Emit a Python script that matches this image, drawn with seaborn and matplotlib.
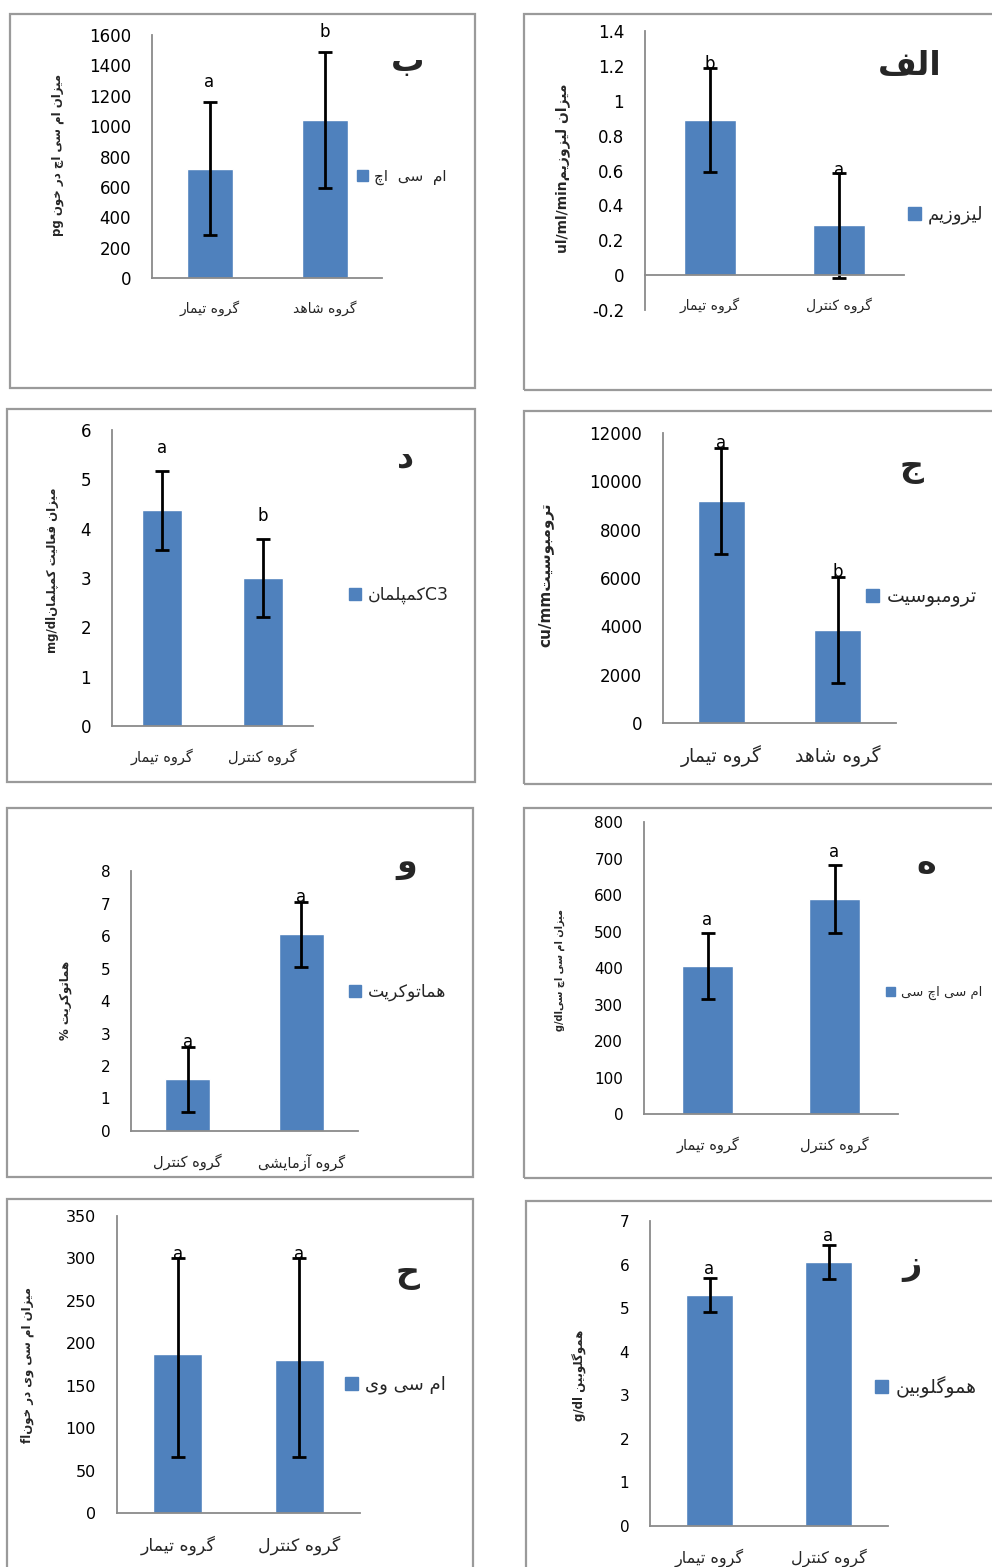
import matplotlib
matplotlib.use("Agg")
import matplotlib.pyplot as plt
from matplotlib.patches import Rectangle, Patch
from matplotlib.ticker import FuncFormatter
import seaborn as sns
import pandas as pd
import numpy as np

# values
groups_b = ['گروه تیمار', 'گروه شاهد']
mch_blood = [720, 1040]
mch_blood_err = [440, 445]
mch_blood_sig = ['a', 'b']

groups_alef = ['گروه تیمار', 'گروه کنترل']
lysozyme = [0.89, 0.285]
lysozyme_err = [0.30, 0.30]
lysozyme_sig = ['b', 'a']

groups_dal = ['گروه تیمار', 'گروه کنترل']
complement_c3 = [4.37, 3.0]
complement_c3_err = [0.80, 0.80]
complement_c3_sig = ['a', 'b']

groups_jim = ['گروه تیمار', 'گروه شاهد']
thrombocyte = [9200, 3850]
thrombocyte_err = [2200, 2200]
thrombocyte_sig = ['a', 'b']

groups_vav = ['گروه کنترل', 'گروه آزمایشی']
hematocrit = [1.6, 6.05]
hematocrit_err = [1.0, 1.0]
hematocrit_sig = ['a', 'a']

groups_he = ['گروه تیمار', 'گروه کنترل']
mchc = [405, 590]
mchc_err = [91, 93]
mchc_sig = ['a', 'a']

groups_hah = ['گروه تیمار', 'گروه کنترل']
mcv = [187, 180]
mcv_err_low = [121, 114]
mcv_err_high = [113, 120]
mcv_sig = ['a', 'a']

groups_ze = ['گروه تیمار', 'گروه کنترل']
hemoglobin = [5.3, 6.05]
hemoglobin_err = [0.39, 0.39]
hemoglobin_sig = ['a', 'a']

# small persian shaper (matplotlib has no arabic shaping / bidi)
# isolated, final, initial, medial
FORMS = {
    'ا': ('\uFE8D', '\uFE8E', None, None),
    'آ': ('\uFE81', '\uFE82', None, None),
    'ب': ('\uFE8F', '\uFE90', '\uFE91', '\uFE92'),
    'پ': ('\uFB56', '\uFB57', '\uFB58', '\uFB59'),
    'ت': ('\uFE95', '\uFE96', '\uFE97', '\uFE98'),
    'ج': ('\uFE9D', '\uFE9E', '\uFE9F', '\uFEA0'),
    'چ': ('\uFB7A', '\uFB7B', '\uFB7C', '\uFB7D'),
    'ح': ('\uFEA1', '\uFEA2', '\uFEA3', '\uFEA4'),
    'خ': ('\uFEA5', '\uFEA6', '\uFEA7', '\uFEA8'),
    'د': ('\uFEA9', '\uFEAA', None, None),
    'ر': ('\uFEAD', '\uFEAE', None, None),
    'ز': ('\uFEAF', '\uFEB0', None, None),
    'س': ('\uFEB1', '\uFEB2', '\uFEB3', '\uFEB4'),
    'ش': ('\uFEB5', '\uFEB6', '\uFEB7', '\uFEB8'),
    'ع': ('\uFEC9', '\uFECA', '\uFECB', '\uFECC'),
    'ف': ('\uFED1', '\uFED2', '\uFED3', '\uFED4'),
    'ک': ('\uFB8E', '\uFB8F', '\uFB90', '\uFB91'),
    'گ': ('\uFB92', '\uFB93', '\uFB94', '\uFB95'),
    'ل': ('\uFEDD', '\uFEDE', '\uFEDF', '\uFEE0'),
    'م': ('\uFEE1', '\uFEE2', '\uFEE3', '\uFEE4'),
    'ن': ('\uFEE5', '\uFEE6', '\uFEE7', '\uFEE8'),
    'و': ('\uFEED', '\uFEEE', None, None),
    'ه': ('\uFEE9', '\uFEEA', '\uFEEB', '\uFEEC'),
    'ی': ('\uFBFC', '\uFBFD', '\uFBFE', '\uFBFF'),
}


def rtl(text):
    out = []
    for i, ch in enumerate(text):
        if ch not in FORMS:
            out.append(ch)
            continue
        prev = text[i - 1] if i > 0 else ''
        nxt = text[i + 1] if i + 1 < len(text) else ''
        iso, fin, ini, med = FORMS[ch]
        join_prev = prev in FORMS and FORMS[prev][2] is not None
        join_next = ini is not None and nxt in FORMS
        if join_prev and join_next:
            out.append(med)
        elif join_prev:
            out.append(fin)
        elif join_next:
            out.append(ini)
        else:
            out.append(iso)
    return ''.join(reversed(out))


W, H = 992, 1567
BLUE = '#4F81BD'
AXGRAY = '#8A8A8A'
BOXGRAY = '#9A9A9A'

sns.set_style('white')
plt.rcParams['font.family'] = ['DejaVu Sans']

fig = plt.figure(figsize=(W / 100, H / 100), dpi=100)


def fx(x):
    return x / W


def fy(y):
    return 1 - y / H


def tick_fmt(v, pos):
    v = round(v, 3) + 0.0
    return f'{v:g}'


panels = [
    dict(box=(10, 14, 475, 388), ax=(152, 35, 382, 278), cats=groups_b,
         vals=mch_blood, lo=mch_blood_err, hi=mch_blood_err, sig=mch_blood_sig, sig_off=8,
         ylim=(0, 1600), step=200, tfs=12, cfs=10, title='ب', title_xy=(408, 62),
         leg=rtl('ام  سی  اچ'), leg_xy=(357, 177), lfs=11,
         ylab='pg ' + rtl('میزان ام سی اچ در خون'), ylab_xy=(58, 155), yfs=8.5),
    dict(box=(524, 14, 996, 390), ax=(645, 31, 904, 310), cats=groups_alef,
         vals=lysozyme, lo=lysozyme_err, hi=lysozyme_err, sig=lysozyme_sig, sig_off=-4,
         ylim=(-0.2, 1.4), step=0.2, tfs=12, cfs=10, title='الف', title_xy=(910, 66),
         leg=rtl('لیزوزیم'), leg_xy=(908, 215), lfs=13,
         ylab='ul/ml/min' + rtl('میزان لیزوزیم'), ylab_xy=(563, 168), yfs=10),
    dict(box=(7, 409, 475, 782), ax=(112, 430, 313, 726), cats=groups_dal,
         vals=complement_c3, lo=complement_c3_err, hi=complement_c3_err, sig=complement_c3_sig, sig_off=10,
         ylim=(0, 6), step=1, tfs=12, cfs=10.5, title='د', title_xy=(406, 458),
         leg=rtl('کمپلمان') + 'C3', leg_xy=(349, 595), lfs=12.5,
         ylab='mg/dl' + rtl('میزان فعالیت کمپلمان'), ylab_xy=(53, 570), yfs=8.5),
    dict(box=(524, 411, 996, 784), ax=(663, 433, 896, 723), cats=groups_jim,
         vals=thrombocyte, lo=thrombocyte_err, hi=thrombocyte_err, sig=thrombocyte_sig, sig_off=-3,
         ylim=(0, 12000), step=2000, tfs=12, cfs=13.5, title='ج', title_xy=(912, 468),
         leg=rtl('ترومبوسیت'), leg_xy=(866, 597), lfs=13.5,
         ylab='cu/mm' + rtl('ترومبوسیت'), ylab_xy=(545, 575), yfs=11),
    dict(box=(7, 808, 473, 1177), ax=(131, 871, 358, 1131), cats=groups_vav,
         vals=hematocrit, lo=hematocrit_err, hi=hematocrit_err, sig=hematocrit_sig, sig_off=-3,
         ylim=(0, 8), step=1, tfs=11, cfs=10.5, title='و', title_xy=(407, 864),
         leg=rtl('هماتوکریت'), leg_xy=(349, 992), lfs=12.5,
         ylab='% ' + rtl('هماتوکریت'), ylab_xy=(66, 1000), yfs=8.5),
    dict(box=(524, 808, 996, 1178), ax=(644, 822, 898, 1114), cats=groups_he,
         vals=mchc, lo=mchc_err, hi=mchc_err, sig=mchc_sig, sig_off=3,
         ylim=(0, 800), step=100, tfs=11, cfs=10.5, title='ه', title_xy=(926, 864),
         leg=rtl('ام سی اچ سی'), leg_xy=(886, 993), lfs=9.5,
         ylab='g/dl' + rtl('میزان ام سی اچ سی'), ylab_xy=(560, 970), yfs=7),
    dict(box=(7, 1199, 473, 1570), ax=(117, 1216, 360, 1513), cats=groups_hah,
         vals=mcv, lo=mcv_err_low, hi=mcv_err_high, sig=mcv_sig, sig_off=-3,
         ylim=(0, 350), step=50, tfs=11.5, cfs=12.5, title='ح', title_xy=(408, 1273),
         leg=rtl('ام سی وی'), leg_xy=(345, 1385), lfs=13,
         ylab='fl' + rtl('میزان ام سی وی در خون'), ylab_xy=(27, 1365), yfs=8.5),
    dict(box=(526, 1201, 996, 1570), ax=(650, 1221, 888, 1526), cats=groups_ze,
         vals=hemoglobin, lo=hemoglobin_err, hi=hemoglobin_err, sig=hemoglobin_sig, sig_off=0,
         ylim=(0, 7), step=1, tfs=11, cfs=11.5, title='ز', title_xy=(912, 1266),
         leg=rtl('هموگلوبین'), leg_xy=(875, 1387), lfs=13.5,
         ylab='g/dl ' + rtl('هموگلوبین'), ylab_xy=(580, 1375), yfs=8.5),
]

for p in panels:
    x0, y0, x1, y1 = p['box']
    fig.add_artist(Rectangle((fx(x0), fy(y1)), fx(x1 - x0), (y1 - y0) / H,
                             transform=fig.transFigure, fill=False,
                             edgecolor=BOXGRAY, linewidth=1.6))

    l, t, r, b = p['ax']
    ax = fig.add_axes([fx(l), fy(b), fx(r - l), (b - t) / H])
    df = pd.DataFrame({'group': p['cats'], 'value': p['vals']})
    sns.barplot(data=df, x='group', y='value', color=BLUE, saturation=1,
                width=0.4, errorbar=None, ax=ax)
    ax.errorbar(range(len(p['vals'])), p['vals'], yerr=[p['lo'], p['hi']],
                fmt='none', ecolor='black', elinewidth=2, capsize=5, capthick=2)
    for i, s in enumerate(p['sig']):
        ax.annotate(s, (i, p['vals'][i] + p['hi'][i]), xytext=(0, p['sig_off']),
                    textcoords='offset points', ha='center', va='bottom',
                    fontsize=12, color='black')

    ax.set_xlim(-0.5, 1.5)
    ax.set_ylim(*p['ylim'])
    lo_, hi_ = p['ylim']
    ax.set_yticks(np.linspace(lo_, hi_, int(round((hi_ - lo_) / p['step'])) + 1))
    ax.yaxis.set_major_formatter(FuncFormatter(tick_fmt))
    ax.set_xticks([0, 1])
    ax.set_xticklabels([rtl(c) for c in p['cats']], fontsize=p['cfs'])
    ax.set_xticks([-0.5, 0.5, 1.5], minor=True)
    ax.set_xlabel('')
    ax.set_ylabel('')
    for side in ['top', 'right']:
        ax.spines[side].set_visible(False)
    for side in ['left', 'bottom']:
        ax.spines[side].set_color(AXGRAY)
        ax.spines[side].set_linewidth(1.3)
    if lo_ < 0:
        ax.spines['bottom'].set_position(('data', 0))
    ax.tick_params(axis='y', length=4, width=1, color=AXGRAY, pad=11,
                   labelsize=p['tfs'], labelcolor='black')
    ax.tick_params(axis='x', which='major', length=0, pad=16)
    ax.tick_params(axis='x', which='minor', length=4, width=1, color=AXGRAY)
    ax.set_facecolor('none')

    ax.legend(handles=[Patch(color=BLUE)], labels=[p['leg']],
              loc='center left', bbox_to_anchor=(fx(p['leg_xy'][0]), fy(p['leg_xy'][1])),
              bbox_transform=fig.transFigure, frameon=False, fontsize=p['lfs'],
              handlelength=0.7, handleheight=0.7, handletextpad=0.4,
              borderpad=0, borderaxespad=0)

    fig.text(fx(p['title_xy'][0]), fy(p['title_xy'][1]), rtl(p['title']),
             ha='center', va='center', fontsize=24, fontweight='bold')
    fig.text(fx(p['ylab_xy'][0]), fy(p['ylab_xy'][1]), p['ylab'], rotation=90,
             ha='center', va='center', fontsize=p['yfs'], fontweight='bold')

fig.savefig('out.png', dpi=100)
